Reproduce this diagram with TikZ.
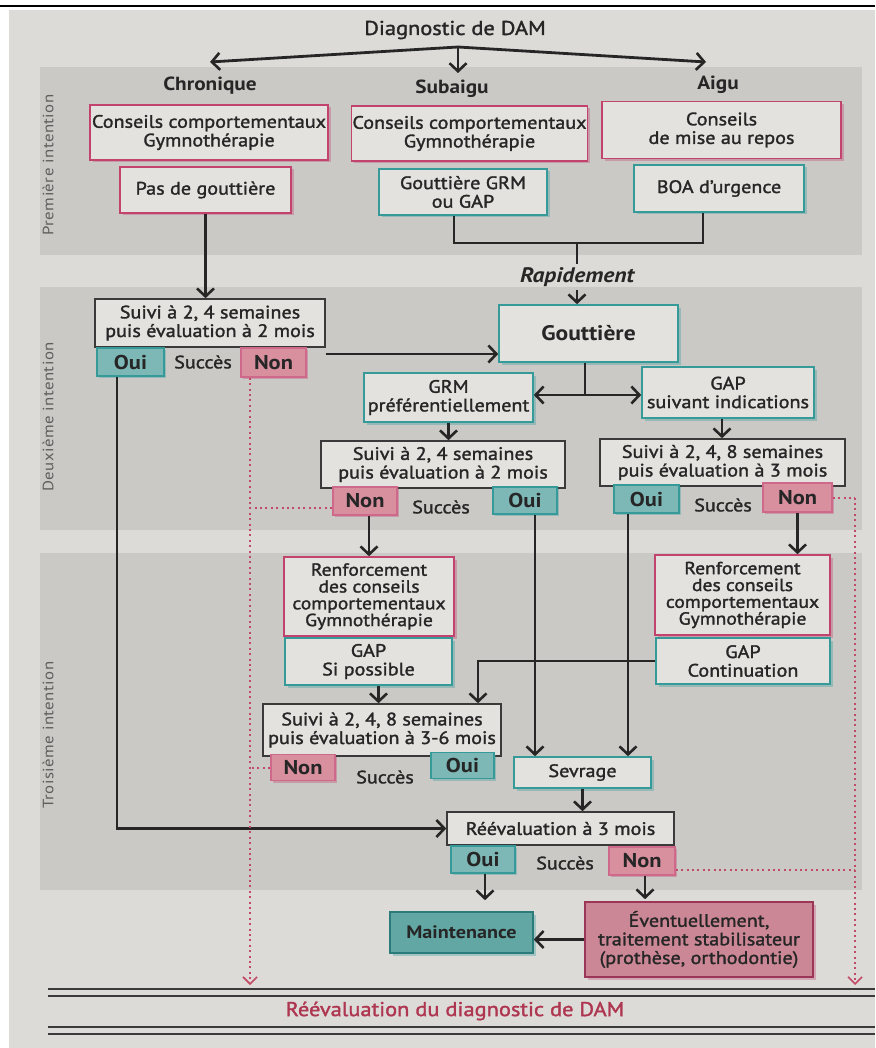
\documentclass[tikz,border=0pt]{standalone}
\usepackage{fontspec}
\setmainfont{PT Sans}[FakeStretch=1.12]
\newfontfamily\medf{PT Sans}[FakeStretch=1.12, FakeBold=1.6]
\usetikzlibrary{arrows.meta,shadows}
\definecolor{pagec}{HTML}{DDDBD8}
\definecolor{bandc}{HTML}{CBC9C6}
\definecolor{boxfill}{HTML}{E4E2DF}
\definecolor{pinkc}{HTML}{C2446E}
\definecolor{tealc}{HTML}{369A99}
\definecolor{darkc}{HTML}{3A3A3A}
\definecolor{ouifill}{HTML}{7DB8B6}
\definecolor{nonfill}{HTML}{D8909F}
\definecolor{maintfill}{HTML}{62A7A3}
\definecolor{eventfill}{HTML}{CB8795}
\definecolor{txtc}{HTML}{262626}
\definecolor{dotc}{HTML}{C24A66}
\definecolor{redtxt}{HTML}{AE3650}
\definecolor{sidec}{HTML}{5E5E5E}
\begin{document}
\begin{tikzpicture}[x=1pt,y=-1pt,
  every node/.style={text=txtc},
  box/.style={draw, line width=1.6pt, fill=boxfill, align=center, inner sep=1pt,
    font=\medf\fontsize{18}{18.6}\selectfont},
  pinkbox/.style={box, draw=pinkc, drop shadow={fill=pinkc, opacity=0.35, shadow xshift=2.5pt, shadow yshift=-2.5pt}},
  tealbox/.style={box, draw=tealc, drop shadow={fill=tealc, opacity=0.35, shadow xshift=2.5pt, shadow yshift=-2.5pt}},
  greybox/.style={box, draw=darkc},
  ouibox/.style={draw=tealc, fill=ouifill, line width=1.5pt, inner sep=1pt,
    font=\fontsize{20}{22}\selectfont\bfseries,
    drop shadow={fill=tealc, opacity=0.35, shadow xshift=2pt, shadow yshift=-2pt}},
  nonbox/.style={draw=pinkc!80, fill=nonfill, line width=1.5pt, inner sep=1pt,
    font=\fontsize{20}{22}\selectfont\bfseries,
    drop shadow={fill=pinkc, opacity=0.35, shadow xshift=2pt, shadow yshift=-2pt}},
  succ/.style={font=\medf\fontsize{18}{20}\selectfont},
  hdr/.style={font=\fontsize{19}{21}\selectfont\bfseries},
  side/.style={rotate=90, text=sidec, font=\fontsize{15}{17}\selectfont\addfontfeatures{LetterSpace=3}},
  line/.style={line width=2.8pt, draw=txtc},
  arr/.style={line, -{Straight Barb[length=8pt,width=17pt,line width=2.6pt]}},
  dotline/.style={line width=2pt, draw=dotc, dash pattern=on 2pt off 3.4pt},
  dotarr/.style={dotline, -{Straight Barb[length=7pt,width=14pt,line width=1.6pt]}},
  dbl/.style={line width=1.4pt, draw=darkc}
]
\useasboundingbox (0,0) rectangle (875,1048);
% page
\fill[white] (0,0) rectangle (875,1048);
\fill[pagec] (9,10) rectangle (875,1048);
\draw[line width=2.6pt, black] (0,6) -- (875,6);
% bands
\fill[bandc] (40,67) rectangle (862,255);
\fill[bandc] (40,287) rectangle (862,530);
\fill[bandc] (40,553) rectangle (862,890);
\node[side] (s1) at (48,165) {Première intention};
\node[side] (s2l) at (48,417) {Deuxième intention};
\node[side] (s3) at (48,735) {Troisième intention};

% title & headers
\node[font=\medf\fontsize{20}{22}\selectfont] (title) at (455,30) {Diagnostic de DAM};
\node[hdr] (chron) at (210,86) {Chronique};
\node[hdr] (subai) at (452,89) {Subaigu};
\node[hdr] (aigu) at (718,85) {Aigu};
\coordinate (tstart) at (458,47);
\coordinate (tl) at (210,62);
\coordinate (tm) at (458,73);
\coordinate (tr) at (706,62);
\draw[arr] (tstart) -- (tl);
\draw[arr] (tstart) -- (tm);
\draw[arr] (tstart) -- (tr);

% first intention
\node[pinkbox, minimum width=238, minimum height=55] (c1) at (209,132.5) {Conseils comportementaux\\Gymnothérapie};
\node[pinkbox, minimum width=235, minimum height=55] (sa1) at (469.5,133.5) {Conseils comportementaux\\Gymnothérapie};
\node[pinkbox, minimum width=239, minimum height=57] (a1) at (721.5,130) {Conseils\\de mise au repos};
\node[pinkbox, minimum width=171, minimum height=46] (c2) at (205.5,190) {Pas de gouttière};
\node[tealbox, minimum width=168, minimum height=46] (sa2) at (463,192) {Gouttière GRM\\ou GAP};
\node[tealbox, minimum width=170, minimum height=47] (a2) at (719,188.5) {BOA d’urgence};

% rapidement branch
\coordinate (j) at (577,243);
\draw[line] ([xshift=-9]sa2.south) |- (j) -| ([xshift=-16]a2.south);
\node[font=\fontsize{21}{23}\selectfont\bfseries\itshape] (rap) at (577,277) {Rapidement};
\draw[line] (j) -- (rap.north);

% second intention
\node[greybox, minimum width=230, minimum height=48] (sv1) at (210,323) {Suivi à 2, 4 semaines\\puis évaluation à 2 mois};
\node[ouibox, minimum width=67, minimum height=28] (oui1) at (130.5,362) {Oui};
\node[succ] (sc1) at (203,362) {Succès};
\node[nonbox, minimum width=65, minimum height=29] (non1) at (273.5,362.5) {Non};
\draw[arr] (c2.south) -- (c2.south |- sv1.north);

\node[tealbox, minimum width=179, minimum height=57, font=\fontsize{21}{23}\selectfont\bfseries] (gout) at (588.5,333.5) {Gouttière};
\draw[arr] (rap.south) -- (rap.south |- gout.north);
\draw[arr] ([xshift=19,yshift=8.5]non1.east) -- ([yshift=8.5]non1.east -| gout.west);

\node[tealbox, minimum width=169, minimum height=49] (grm) at (448.5,397.5) {GRM\\préférentiellement};
\node[tealbox, minimum width=172, minimum height=51] (gaps) at (728,392.5) {GAP\\suivant indications};
\coordinate (gj) at (585,395);
\draw[line] (gj |- gout.south) -- (gj);
\draw[arr] (gj) -- (grm.east |- gj);
\draw[arr] (gj) -- (gaps.west |- gj);

\node[greybox, minimum width=244, minimum height=47] (sv2) at (443,464.5) {Suivi à 2, 4 semaines\\puis évaluation à 2 mois};
\node[greybox, minimum width=245, minimum height=47] (sv3) at (722.5,462.5) {Suivi à 2, 4, 8 semaines\\puis évaluation à 3 mois};
\draw[arr] (grm.south) -- (grm.south |- sv2.north);
\draw[arr] ([xshift=-6]gaps.south) -- ([xshift=-6]gaps.south |- sv3.north);

\node[nonbox, minimum width=64, minimum height=28] (non2) at (365,501) {Non};
\node[succ] (sc2) at (441,507) {Succès};
\node[ouibox, minimum width=64, minimum height=27] (oui2) at (525,500.5) {Oui};
\node[ouibox, minimum width=65, minimum height=28] (oui3) at (646.5,499) {Oui};
\node[succ] (sc3) at (723,505) {Succès};
\node[nonbox, minimum width=69, minimum height=29] (non3) at (797.5,497.5) {Non};

% third intention
\node[pinkbox, minimum width=170, minimum height=79, font=\medf\fontsize{17.5}{16.8}\selectfont] (r1) at (369,596.5) {Renforcement\\des conseils\\comportementaux\\Gymnothérapie};
\node[tealbox, minimum width=167, minimum height=47] (g1) at (368.5,661.5) {GAP\\Si possible};
\node[pinkbox, minimum width=175, minimum height=80, font=\medf\fontsize{17.5}{16.8}\selectfont] (r2) at (742.5,595) {Renforcement\\des conseils\\comportementaux\\Gymnothérapie};
\node[tealbox, minimum width=174, minimum height=46] (g2) at (743,661) {GAP\\Continuation};
\draw[arr] (r1.north |- non2.south) -- (r1.north);
\draw[arr] (non3.south) -- (non3.south |- r2.north);

\node[greybox, minimum width=238, minimum height=52] (sv4) at (382,730) {Suivi à 2, 4, 8 semaines\\puis évaluation à 3-6 mois};
\draw[arr] ([xshift=10]g1.south) -- ([xshift=10]g1.south |- sv4.north);
\draw[arr] (g2.west) -| ([xshift=96]sv4.north);
\node[nonbox, minimum width=64, minimum height=26] (non4) at (303,767.5) {Non};
\node[succ] (sc4) at (385,777) {Succès};
\node[ouibox, minimum width=63, minimum height=26] (oui4) at (462.5,765.5) {Oui};

\node[tealbox, minimum width=137, minimum height=31] (sev) at (582.5,772.5) {Sevrage};
\draw[arr] ([xshift=10]oui2.south) -- ([xshift=10]oui2.south |- sev.north);
\draw[arr] ([xshift=-18.5]oui3.south) -- ([xshift=-18.5]oui3.south |- sev.north);

\node[greybox, minimum width=227, minimum height=33] (reev) at (560.5,828.5) {Réévaluation à 3 mois};
\draw[arr] (sev.south) -- (sev.south |- reev.north);
\draw[arr] ([xshift=-13.5]oui1.south) |- (reev.west);
\node[ouibox, minimum width=64, minimum height=27] (oui5) at (483,859.5) {Oui};
\node[succ] (sc5) at (565,863) {Succès};
\node[nonbox, minimum width=66, minimum height=28] (non5) at (642,861) {Non};

\node[box, draw=tealc!80!black, fill=maintfill, minimum width=143, minimum height=41,
  font=\fontsize{18}{20}\selectfont\bfseries,
  drop shadow={fill=tealc, opacity=0.35, shadow xshift=2.5pt, shadow yshift=-2.5pt}] (maint) at (461.5,932.5) {Maintenance};
\node[box, draw=pinkc!80!black, fill=eventfill, minimum width=228, minimum height=75,
  drop shadow={fill=pinkc, opacity=0.35, shadow xshift=2.5pt, shadow yshift=-2.5pt}] (event) at (699,939.5) {Éventuellement,\\traitement stabilisateur\\(prothèse, orthodontie)};
\draw[arr, shorten >=11pt] ([xshift=2]oui5.south) -- ([xshift=2]oui5.south |- maint.north);
\draw[arr, shorten >=2pt] ([xshift=3]non5.south) -- ([xshift=3]non5.south |- event.north);
\draw[arr] (event.west) -- (maint.east |- event.west);

% dotted connectors
\coordinate (botl) at (250,985);
\coordinate (botr) at (855,985);
\draw[dotarr] ([xshift=-23.5]non1.south) -- (botl);
\draw[dotline] ([yshift=-7]non2.west) -- ([yshift=-7]non2.west -| botl);
\draw[dotline] (non4.west) -- (non4.west -| botl);
\draw[dotline] (non3.east) -- (non3.east -| botr);
\draw[dotarr] (non3.east -| botr) -- (botr);
\draw[dotline] ([yshift=-9]non5.east) -- ([yshift=-9]non5.east -| botr);

% bottom
\draw[dbl] (48,989) -- (875,989);
\draw[dbl] (48,996) -- (875,996);
\node[text=redtxt, font=\medf\fontsize{20}{22}\selectfont] (rdiag) at (455,1011) {Réévaluation du diagnostic de DAM};
\draw[dbl] (48,1027) -- (875,1027);
\draw[dbl] (48,1034) -- (875,1034);
\end{tikzpicture}
\end{document}
